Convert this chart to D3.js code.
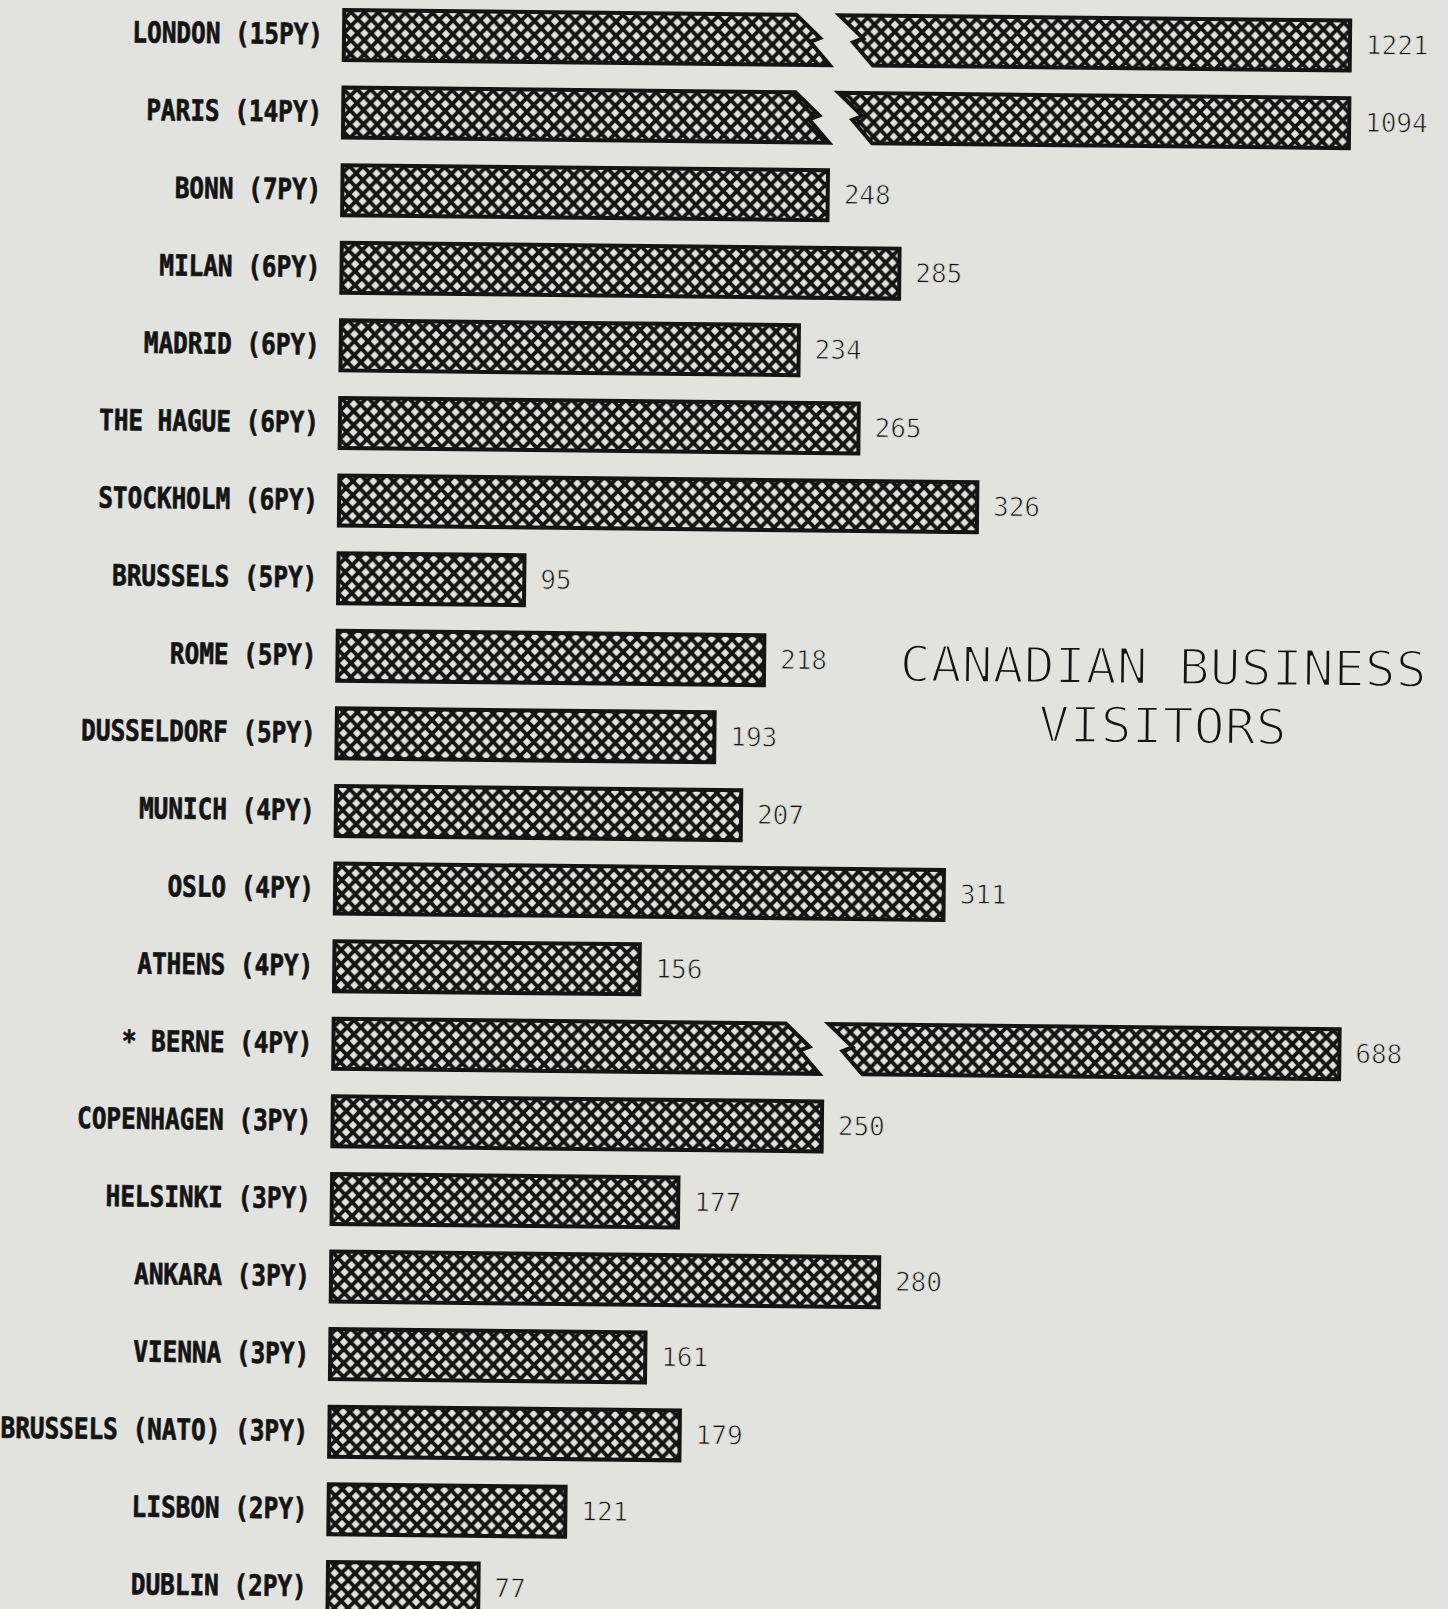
<!DOCTYPE html>
<html>
<head>
<meta charset="utf-8">
<script src="https://cdnjs.cloudflare.com/ajax/libs/d3/7.8.5/d3.min.js"></script>
<style>
  body { margin: 0; background: #e2e2df; }
  svg { display: block; }
</style>
</head>
<body>
<script>
//=================== DATA ====================================
var cities = ["LONDON", "PARIS", "BONN", "MILAN", "MADRID", "THE HAGUE", "STOCKHOLM",
	"BRUSSELS", "ROME", "DUSSELDORF", "MUNICH", "OSLO", "ATHENS", "* BERNE",
	"COPENHAGEN", "HELSINKI", "ANKARA", "VIENNA", "BRUSSELS (NATO)", "LISBON", "DUBLIN"];
var personYears = ["15PY", "14PY", "7PY", "6PY", "6PY", "6PY", "6PY",
	"5PY", "5PY", "5PY", "4PY", "4PY", "4PY", "4PY",
	"3PY", "3PY", "3PY", "3PY", "3PY", "2PY", "2PY"];
var visitors = [1221, 1094, 248, 285, 234, 265, 326,
	95, 218, 193, 207, 311, 156, 688,
	250, 177, 280, 161, 179, 121, 77];
var titleLines = ["CANADIAN BUSINESS", "VISITORS"];

// broken axis: bars longer than barCap are cut between axisBreak[0] and axisBreak[1]
var axisBreak = [231, 253];
var barCap = 514;

//=================== SETUP ====================================
var W = 1448, H = 1609;
var paper = "#e2e2df";
var ink = "#141414";

var dataset = cities.map(function (c, i) {
	return { key: i, city: c, py: personYears[i], value: visitors[i] };
});

var svg = d3.select("body").append("svg")
	.attr("width", W)
	.attr("height", H);

svg.append("rect")
	.attr("width", W)
	.attr("height", H)
	.attr("fill", paper);

// crosshatch fill used by every bar
var pw = 13.6, ph = 14;
var defs = svg.append("defs");
var pat = defs.append("pattern")
	.attr("id", "xhatch")
	.attr("patternUnits", "userSpaceOnUse")
	.attr("width", pw)
	.attr("height", ph)
	.attr("x", 4)
	.attr("y", 5);
pat.append("rect")
	.attr("width", pw)
	.attr("height", ph)
	.attr("fill", paper);
pat.append("path")
	.attr("d", "M-2,-2L" + (pw + 2) + "," + (ph + 2) + "M" + (pw + 2) + ",-2L-2," + (ph + 2))
	.attr("stroke", ink)
	.attr("stroke-width", 3.9)
	.attr("fill", "none");

var xScale = d3.scaleLinear()
	.domain([0, barCap])
	.range([344, 1350]);

var yScale = d3.scalePoint()
	.domain(d3.range(dataset.length))
	.range([35, 1587]);

var barH = 50;

// the scanned page is a little rotated
var grp = svg.append("g")
	.attr("transform", "rotate(0.6,344,35)");

//=================== BARS ====================================
// shape of the zig-zag cut, as fractions of bar height
var cut = [[0, 0], [0.48, 0.46], [0.28, 0.54], [0.68, 1]];
var line = d3.line();

function barPath(d) {
	var cy = yScale(d.key), t = cy - barH / 2, b = cy + barH / 2;
	var x0 = xScale(0);
	if (d.value <= barCap) {
		return line([[x0, t], [xScale(d.value), t], [xScale(d.value), b], [x0, b]]) + "Z";
	}
	var xb = xScale(axisBreak[0]), xr = xScale(axisBreak[1]), xe = xScale(barCap);
	var left = [[x0, t]].concat(cut.map(function (c) { return [xb + c[0] * barH, t + c[1] * barH]; }))
		.concat([[x0, b]]);
	var right = [[xe, t], [xe, b]].concat(cut.slice().reverse().map(function (c) {
		return [xr + c[0] * barH, t + c[1] * barH];
	}));
	return line(left) + "Z" + line(right) + "Z";
}

grp.selectAll("path.bar")
	.data(dataset, function (d) { return d.key; })
	.enter()
	.append("path")
	.attr("class", "bar")
	.attr("d", barPath)
	.attr("fill", "url(#xhatch)")
	.attr("stroke", ink)
	.attr("stroke-width", 4)
	.attr("stroke-linejoin", "miter");

//=================== LABELS ====================================
grp.selectAll("text.label")
	.data(dataset)
	.enter()
	.append("text")
	.attr("class", "label")
	.attr("transform", function (d) {
		return "translate(" + [xScale(0) - 21, yScale(d.key) - 1] + ") scale(0.84,1)";
	})
	.attr("text-anchor", "end")
	.attr("dy", "0.36em")
	.style("font-family", "'DejaVu Sans Mono', monospace")
	.style("font-weight", "bold")
	.style("font-size", "29px")
	.attr("fill", ink)
	.attr("stroke", ink)
	.attr("stroke-width", 0.7)
	.text(function (d) { return d.city + " (" + d.py + ")"; });

grp.selectAll("text.value")
	.data(dataset)
	.enter()
	.append("text")
	.attr("class", "value")
	.attr("x", function (d) { return xScale(Math.min(d.value, barCap)) + 16; })
	.attr("y", function (d) { return yScale(d.key) - 1; })
	.attr("dy", "0.36em")
	.style("font-family", "'DejaVu Sans Mono', monospace")
	.style("font-size", "26px")
	.attr("fill", ink)
	.attr("stroke", paper)
	.attr("stroke-width", 0.8)
	.text(function (d) { return d.value; });

//=================== TITLE ====================================
// two separate lines, spaced so their boxes do not touch
titleLines.forEach(function (t, i) {
	svg.append("text")
		.attr("transform", "translate(" + [1163 - i * 0.6, 684 + i * 59] + ") rotate(0.6) scale(1.12,1.08)")
		.attr("text-anchor", "middle")
		.style("font-family", "'DejaVu Sans Mono', monospace")
		.style("font-size", "46px")
		.attr("fill", ink)
		.attr("stroke", paper)
		.attr("stroke-width", 2)
		.text(t);
});
</script>
</body>
</html>
